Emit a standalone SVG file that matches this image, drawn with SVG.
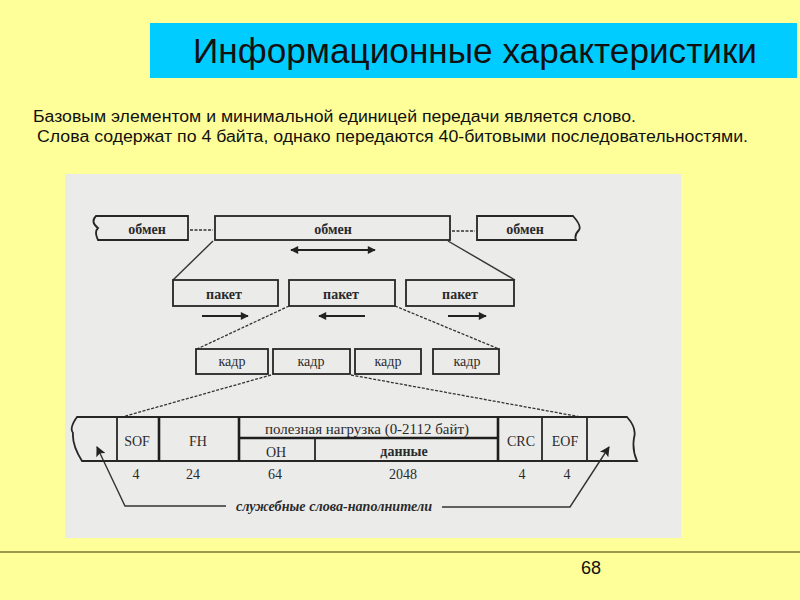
<svg xmlns="http://www.w3.org/2000/svg" width="800" height="600" viewBox="0 0 800 600">
<defs>
<style>
.bx{fill:none;stroke:#262626;stroke-width:1.8}
.th{fill:none;stroke:#1e1e1e;stroke-width:2.6}
.ln{fill:none;stroke:#333;stroke-width:1.4}
.ar{fill:none;stroke:#222;stroke-width:2}
.dl{fill:none;stroke:#333;stroke-width:1.3;stroke-dasharray:3 1.5}
.t{font-family:"Liberation Serif","DejaVu Serif",serif;font-size:14px;font-weight:bold;fill:#2a2a2a;text-anchor:middle}
.tn{font-family:"Liberation Serif","DejaVu Serif",serif;font-size:14px;fill:#2a2a2a;text-anchor:middle}
.s{font-family:"Liberation Sans",Arial,sans-serif;fill:#111}
</style>
<marker id="ah" viewBox="0 0 10 10" refX="9" refY="5" markerWidth="10" markerHeight="8" orient="auto-start-reverse" markerUnits="userSpaceOnUse">
<path d="M0,0 L10,5 L0,10 Z" fill="#222"/>
</marker>
<marker id="ah2" viewBox="0 0 10 10" refX="9" refY="5" markerWidth="13" markerHeight="10" orient="auto" markerUnits="userSpaceOnUse">
<path d="M0,0 L10,5 L0,10 L2,5 Z" fill="#222"/>
</marker>
</defs>
<rect x="0" y="0" width="800" height="600" fill="#ffff99"/>
<g id="title">
<rect x="150" y="23" width="647" height="55" fill="#00ccff"/>
<text class="s" x="475" y="63" font-size="35" text-anchor="middle" textLength="564" lengthAdjust="spacingAndGlyphs">Информационные характеристики</text>
</g>
<g id="intro">
<text class="s" x="33" y="122" font-size="16" textLength="603" lengthAdjust="spacingAndGlyphs">Базовым элементом и минимальной единицей передачи является слово.</text>
<text class="s" x="37" y="142" font-size="16" textLength="711" lengthAdjust="spacingAndGlyphs">Слова содержат по 4 байта, однако передаются 40-битовыми последовательностями.</text>
</g>
<rect id="scan" x="65" y="174" width="616" height="364" fill="#ebebea"/>
<g id="connectors">
<line class="dl" x1="190" y1="230" x2="213" y2="230"/>
<line class="dl" x1="452" y1="231" x2="475" y2="231"/>
<line class="ln" x1="213" y1="241" x2="173" y2="280"/>
<line class="ln" x1="448" y1="241" x2="515" y2="280"/>
<line class="ar" x1="291" y1="250" x2="375" y2="250" stroke-width="2.6" marker-start="url(#ah)" marker-end="url(#ah)"/>
<line class="ar" x1="202" y1="316" x2="248" y2="316" marker-end="url(#ah)"/>
<line class="ar" x1="365" y1="316" x2="319" y2="316" marker-end="url(#ah)"/>
<line class="ar" x1="448" y1="316" x2="486" y2="316" marker-end="url(#ah)"/>
<line class="dl" x1="289" y1="306" x2="197" y2="349"/>
<line class="dl" x1="395" y1="306" x2="499" y2="349"/>
<line class="dl" x1="271" y1="375" x2="122" y2="417"/>
<line class="dl" x1="351" y1="375" x2="581" y2="417"/>
<polyline class="ln" points="226,506 125,506 97,447" marker-end="url(#ah2)"/>
<polyline class="ln" points="442,507 570,507 609,447" marker-end="url(#ah2)"/>
</g>
<g id="exchange1">
<path class="bx" d="M96,216 L188,216 L188,240 L98,240 Q94,232 98,228 Q90,222 96,216 Z"/>
<text class="t" x="147" y="234" font-size="15">обмен</text>
</g>
<g id="exchange2">
<rect class="bx" x="215" y="216" width="235" height="24"/>
<text class="t" x="333" y="234" font-size="15">обмен</text>
</g>
<g id="exchange3">
<path class="bx" d="M477,216 L573,216 Q582,226 579,230 Q574,235 576,240 L477,240 Z"/>
<text class="t" x="525" y="234" font-size="15">обмен</text>
</g>
<g id="packet1">
<rect class="bx" x="173" y="280" width="105" height="26"/>
<text class="t" x="224" y="299">пакет</text>
</g>
<g id="packet2">
<rect class="bx" x="289" y="280" width="106" height="26"/>
<text class="t" x="341" y="299">пакет</text>
</g>
<g id="packet3">
<rect class="bx" x="406" y="280" width="108" height="26"/>
<text class="t" x="460" y="299">пакет</text>
</g>
<g id="frame1">
<rect class="bx" x="196" y="349" width="72" height="25"/>
<text class="tn" x="232" y="366">кадр</text>
</g>
<g id="frame2">
<rect class="bx" x="273" y="349" width="77" height="25"/>
<text class="tn" x="311" y="366">кадр</text>
</g>
<g id="frame3">
<rect class="bx" x="355" y="349" width="66" height="25"/>
<text class="tn" x="388" y="366">кадр</text>
</g>
<g id="frame4">
<rect class="bx" x="433" y="349" width="66" height="25"/>
<text class="tn" x="467" y="366">кадр</text>
</g>
<g id="frame-structure">
<path class="bx" d="M77,417 L627,417 Q637,428 634,438 Q632,450 637,461 L82,461 Q72,445 73,433 Q69,428 77,417 Z" stroke-width="2"/>
<line class="bx" x1="117" y1="417" x2="117" y2="461"/>
<line class="th" x1="159" y1="417" x2="159" y2="461"/>
<line class="th" x1="239" y1="417" x2="239" y2="461"/>
<line class="th" x1="239" y1="438" x2="498" y2="438"/>
<line class="bx" x1="315" y1="438" x2="315" y2="461"/>
<line class="th" x1="498" y1="417" x2="498" y2="461"/>
<line class="bx" x1="542" y1="417" x2="542" y2="461"/>
<line class="bx" x1="587" y1="417" x2="587" y2="461"/>
<text class="tn" x="137" y="446" font-size="15">SOF</text>
<text class="tn" x="198" y="446" font-size="15">FH</text>
<text class="tn" x="367" y="434" textLength="204" lengthAdjust="spacingAndGlyphs">полезная нагрузка (0-2112 байт)</text>
<text class="tn" x="276" y="457" font-size="15">OH</text>
<text class="t" x="404" y="456" font-size="13">данные</text>
<text class="tn" x="521" y="446" font-size="15">CRC</text>
<text class="tn" x="565" y="446" font-size="15">EOF</text>
<text class="tn" x="136" y="479">4</text>
<text class="tn" x="193" y="479">24</text>
<text class="tn" x="275" y="479">64</text>
<text class="tn" x="403" y="479">2048</text>
<text class="tn" x="522" y="479">4</text>
<text class="tn" x="567" y="479">4</text>
</g>
<g id="fillers-label">
<text class="t" x="334" y="511" font-style="italic" textLength="196" lengthAdjust="spacingAndGlyphs">служебные слова-наполнители</text>
</g>
<line x1="0" y1="552" x2="800" y2="552" stroke="#9a9a4a" stroke-width="2"/>
<text class="s" x="591" y="574" font-size="18" text-anchor="middle">68</text>
</svg>
